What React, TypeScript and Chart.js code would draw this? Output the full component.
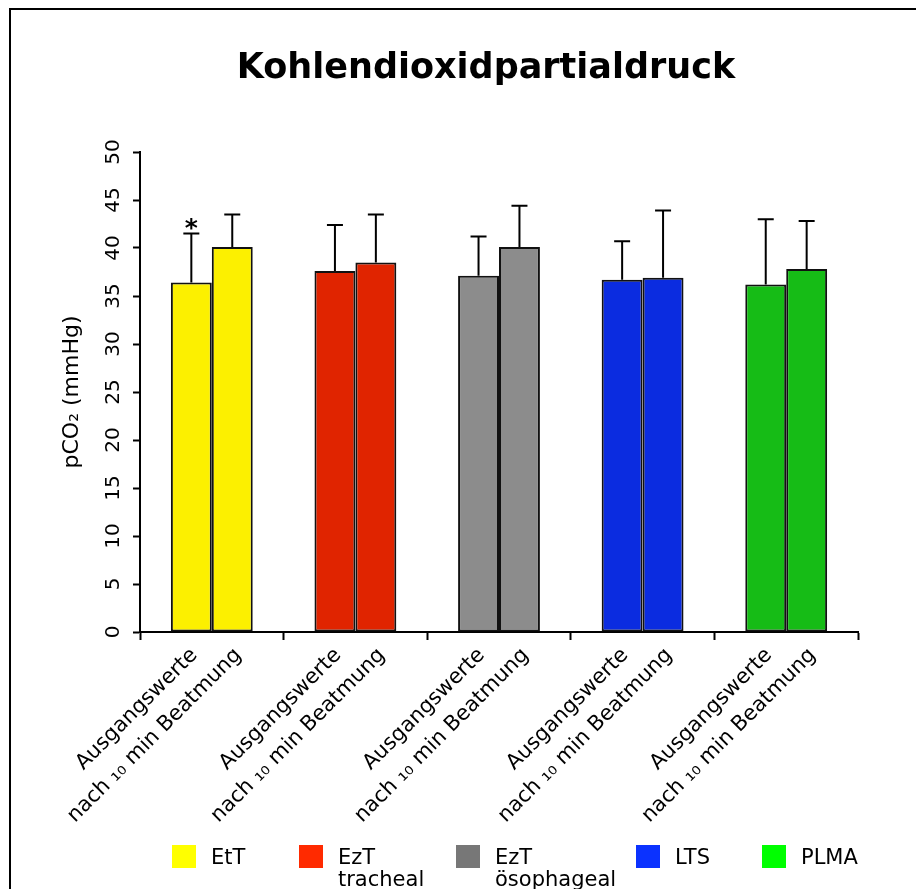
import React, { useEffect, useRef } from "react";
import { Chart, registerables } from "chart.js";

Chart.register(...registerables);

// ---- data ----
const TITLE = "Kohlendioxidpartialdruck";
const Y_TITLE = "pCO₂ (mmHg)";
const GROUPS = ["EtT", "EzT tracheal", "EzT ösophageal", "LTS", "PLMA"];
const LEGEND_LABELS = [["EtT"], ["EzT", "tracheal"], ["EzT", "ösophageal"], ["LTS"], ["PLMA"]];
const SERIES_LABELS = ["Ausgangswerte", "nach ₁₀ min Beatmung"];
const BASELINE = [36.4, 37.6, 37.1, 36.7, 36.2];
const AFTER = [40.1, 38.5, 40.1, 36.9, 37.8];
const BASELINE_SD = [5.1, 4.8, 4.1, 4.0, 6.8];
const AFTER_SD = [3.4, 5.0, 4.3, 7.0, 5.0];
const BASELINE_MARKS = ["*", "", "", "", ""];
const AFTER_MARKS = ["", "", "", "", ""];
const Y_MIN = 0;
const Y_MAX = 50;
const Y_STEP = 5;

// ---- styles ----
const BAR_COLORS = ["#FCF000", "#E02400", "#8C8C8C", "#0B2CE0", "#16BC16"];
const LEGEND_COLORS = ["#FFFF00", "#FF2A00", "#777777", "#0B32FF", "#00FF00"];
const LEGEND_X = [172, 299, 456, 636, 762];
const FONT = "'DejaVu Sans', sans-serif";

const SDS = [BASELINE_SD, AFTER_SD];
const MARKS = [BASELINE_MARKS, AFTER_MARKS];

const framePlugin = {
  id: "frame",
  beforeDraw(chart: any) {
    const ctx = chart.ctx;
    ctx.save();
    ctx.fillStyle = "#ffffff";
    ctx.fillRect(0, 0, chart.width, chart.height);
    ctx.fillStyle = "#000000";
    ctx.fillRect(9, 8, chart.width - 9, 2);
    ctx.fillRect(9, 8, 2, chart.height - 8);
    ctx.restore();
  },
};

const titlePlugin = {
  id: "customTitle",
  afterDraw(chart: any) {
    const ctx = chart.ctx;
    ctx.save();
    ctx.fillStyle = "#000";
    ctx.font = `bold 35px ${FONT}`;
    ctx.textAlign = "center";
    ctx.textBaseline = "middle";
    ctx.fillText(TITLE, 486, 69);
    ctx.restore();
  },
};

const errorBarPlugin = {
  id: "errorBars",
  afterDatasetsDraw(chart: any) {
    const ctx = chart.ctx;
    const yScale = chart.scales.y;
    ctx.save();
    ctx.strokeStyle = "#000";
    ctx.lineWidth = 2;
    chart.data.datasets.forEach((ds: any, di: number) => {
      const meta = chart.getDatasetMeta(di);
      meta.data.forEach((bar: any, i: number) => {
        const v = ds.data[i];
        const top = yScale.getPixelForValue(v + SDS[di][i]);
        ctx.beginPath();
        ctx.moveTo(bar.x, bar.y);
        ctx.lineTo(bar.x, top);
        ctx.moveTo(bar.x - 8, top);
        ctx.lineTo(bar.x + 8, top);
        ctx.stroke();
        const mark = MARKS[di][i];
        if (mark) {
          ctx.fillStyle = "#000";
          ctx.font = `bold 25px ${FONT}`;
          ctx.textAlign = "center";
          ctx.textBaseline = "alphabetic";
          ctx.fillText(mark, bar.x, top + 2);
        }
      });
    });
    ctx.restore();
  },
};

const xLabelPlugin = {
  id: "xLabels",
  afterDraw(chart: any) {
    const ctx = chart.ctx;
    const area = chart.chartArea;
    ctx.save();
    ctx.fillStyle = "#000";
    ctx.font = `21px ${FONT}`;
    ctx.textAlign = "right";
    ctx.textBaseline = "middle";
    chart.data.datasets.forEach((ds: any, di: number) => {
      const meta = chart.getDatasetMeta(di);
      meta.data.forEach((bar: any) => {
        ctx.save();
        ctx.translate(bar.x + 3 + di * 3, area.bottom + 20);
        ctx.rotate(-Math.PI / 4);
        ctx.fillText(SERIES_LABELS[di], 0, 0);
        ctx.restore();
      });
    });
    ctx.restore();
  },
};

const legendPlugin = {
  id: "customLegend",
  afterDraw(chart: any) {
    const ctx = chart.ctx;
    ctx.save();
    ctx.font = `21px ${FONT}`;
    ctx.textAlign = "left";
    ctx.textBaseline = "alphabetic";
    LEGEND_LABELS.forEach((lines, i) => {
      const x = LEGEND_X[i];
      ctx.fillStyle = LEGEND_COLORS[i];
      ctx.fillRect(x, 845, 24, 23);
      ctx.fillStyle = "#000";
      lines.forEach((line, li) => {
        ctx.fillText(line, x + 39, 864 + li * 22);
      });
    });
    ctx.restore();
  },
};

export default function App() {
  const ref = useRef<HTMLCanvasElement | null>(null);
  useEffect(() => {
    if (!ref.current) return;
    const chart = new Chart(ref.current, {
      type: "bar",
      data: {
        labels: GROUPS,
        datasets: [
          {
            label: SERIES_LABELS[0],
            data: BASELINE,
            backgroundColor: BAR_COLORS,
            borderColor: "#111",
            borderWidth: 2,
            borderSkipped: false,
            categoryPercentage: 0.57,
            barPercentage: 1.0,
          },
          {
            label: SERIES_LABELS[1],
            data: AFTER,
            backgroundColor: BAR_COLORS,
            borderColor: "#111",
            borderWidth: 2,
            borderSkipped: false,
            categoryPercentage: 0.57,
            barPercentage: 1.0,
          },
        ],
      },
      options: {
        responsive: false,
        animation: false,
        devicePixelRatio: 1,
        layout: { padding: { left: 0, right: 58, top: 152, bottom: 247 } },
        plugins: {
          legend: { display: false },
          title: { display: false },
          tooltip: { enabled: false },
        },
        scales: {
          x: {
            type: "category",
            offset: true,
            grid: {
              offset: true,
              drawOnChartArea: false,
              drawTicks: true,
              tickLength: 8,
              tickWidth: 2,
              tickColor: "#000",
            },
            border: { display: true, color: "#000", width: 2 },
            ticks: { display: false },
            afterFit: (s: any) => {
              s.height = 10;
            },
          },
          y: {
            min: Y_MIN,
            max: Y_MAX,
            grid: {
              drawOnChartArea: false,
              drawTicks: true,
              tickLength: 7,
              tickWidth: 2,
              tickColor: "#000",
            },
            border: { display: true, color: "#000", width: 2 },
            ticks: {
              stepSize: Y_STEP,
              minRotation: 90,
              maxRotation: 90,
              crossAlign: "center",
              padding: 6,
              color: "#000",
              font: { family: FONT, size: 20 },
            },
            title: {
              display: true,
              text: Y_TITLE,
              color: "#000",
              font: { family: FONT, size: 22 },
              padding: { top: 59, bottom: 0 },
            },
            afterFit: (s: any) => {
              s.width = 140;
            },
          },
        },
      },
      plugins: [framePlugin, errorBarPlugin, xLabelPlugin, legendPlugin, titlePlugin],
    });
    return () => chart.destroy();
  }, []);
  return (
    <div style={{ position: "fixed", left: 0, top: 0, width: 916, height: 889 }}>
      <canvas ref={ref} width={916} height={889} style={{ width: 916, height: 889, display: "block" }} />
    </div>
  );
}
